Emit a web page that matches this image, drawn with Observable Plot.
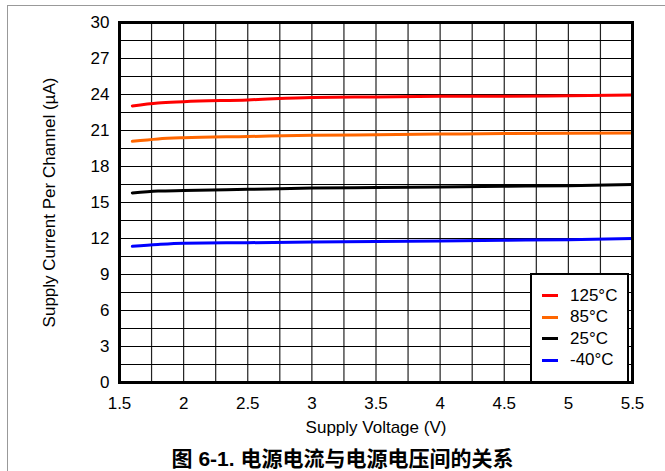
<!DOCTYPE html>
<html><head><meta charset="utf-8">
<script src="https://cdn.jsdelivr.net/npm/d3@7"></script>
<script src="https://cdn.jsdelivr.net/npm/@observablehq/plot@0.6"></script>
<style>
body{margin:0;background:#fff;font-family:"Liberation Sans",Arial,sans-serif;}
#wrap{position:relative;width:665px;height:471px;overflow:hidden;}
#border{position:absolute;left:7px;top:5px;width:700px;height:500px;border:1px solid #999;box-sizing:border-box;}
#chart{position:absolute;left:0;top:0;}
#legend{position:absolute;left:530px;top:273px;width:99px;height:110px;border:2px solid #000;background:#fff;box-sizing:border-box;padding-top:10px;}
.item{display:flex;align-items:center;height:21.5px;font-size:17px;color:#000;}
.sw{width:16px;height:3px;margin-left:10px;margin-right:12px;}
#caption{position:absolute;left:0;width:685px;top:447px;text-align:center;font-family:"Liberation Sans","Noto Sans CJK SC",sans-serif;font-weight:bold;font-size:21px;line-height:24px;}
</style></head>
<body><div id="wrap"><div id="border"></div><div id="chart"></div><div id="legend"></div><div id="caption">图 6-1. 电源电流与电源电压间的关系</div></div>
<script>
const voltage = [1.6, 1.8, 2, 2.5, 3, 3.5, 4, 4.5, 5, 5.5];
const seriesNames = ["125°C", "85°C", "25°C", "-40°C"];
const seriesColors = ["#ff0000", "#ff6600", "#000000", "#0000ff"];
const current125 = [23.05, 23.3, 23.4, 23.55, 23.75, 23.8, 23.85, 23.85, 23.9, 23.95];
const current85 = [20.1, 20.3, 20.4, 20.5, 20.6, 20.65, 20.7, 20.75, 20.78, 20.8];
const current25 = [15.8, 15.95, 16.0, 16.1, 16.2, 16.25, 16.3, 16.35, 16.4, 16.5];
const currentM40 = [11.35, 11.5, 11.6, 11.65, 11.7, 11.75, 11.8, 11.85, 11.9, 12.0];
const xTicks = [1.5, 2, 2.5, 3, 3.5, 4, 4.5, 5, 5.5];
const yTicks = [0, 3, 6, 9, 12, 15, 18, 21, 24, 27, 30];

const allSeries = [current125, current85, current25, currentM40];
const data = [];
allSeries.forEach((vals, i) => vals.forEach((v, j) => data.push({x: voltage[j], y: v, s: seriesNames[i]})));

const chart = Plot.plot({
  width: 665, height: 440,
  marginLeft: 119, marginRight: 33, marginTop: 22, marginBottom: 58,
  style: {fontFamily: '"Liberation Sans", Arial, sans-serif', fontSize: "17px", background: "transparent", color: "#000"},
  x: {domain: [1.5, 5.5], label: null},
  y: {domain: [0, 30], label: null},
  color: {domain: seriesNames, range: seriesColors},
  marks: [
    Plot.gridX(d3.range(1.5, 5.501, 0.25), {stroke: "#222", strokeOpacity: 1, strokeWidth: 1.2}),
    Plot.gridY(d3.range(0, 30.01, 1.5), {stroke: "#000", strokeOpacity: 1, strokeWidth: 1.2}),
    Plot.axisX(xTicks, {tickSize: 0, tickPadding: 14, tickFormat: d => String(d), label: "Supply Voltage (V)", labelAnchor: "center", labelArrow: "none", labelOffset: 50}),
    Plot.axisY(yTicks, {tickSize: 0, tickPadding: 10, tickFormat: d => String(d), label: "Supply Current Per Channel (µA)", labelAnchor: "center", labelArrow: "none", labelOffset: 77}),
    Plot.line(data, {x: "x", y: "y", z: "s", stroke: "s", strokeWidth: 3, curve: "monotone-x"}),
    Plot.frame({stroke: "#000", strokeWidth: 3})
  ]
});
document.getElementById("chart").appendChild(chart);

const leg = document.getElementById("legend");
seriesNames.forEach((n, i) => {
  const d = document.createElement("div"); d.className = "item";
  d.innerHTML = `<span class="sw" style="background:${seriesColors[i]}"></span><span>${n}</span>`;
  leg.appendChild(d);
});
</script></body></html>
